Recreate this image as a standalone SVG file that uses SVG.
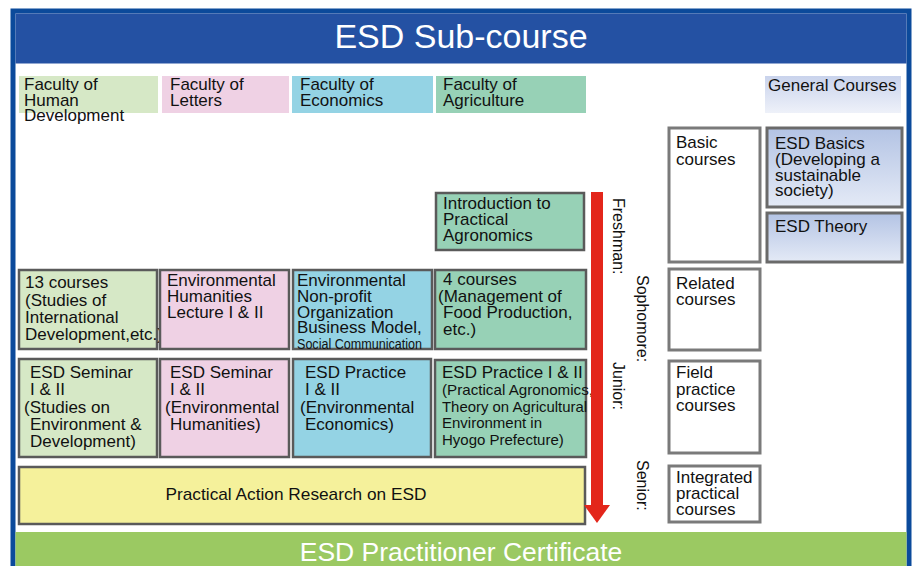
<svg xmlns="http://www.w3.org/2000/svg" width="915" height="566" viewBox="0 0 915 566">
<defs>
<linearGradient id="gBlue" x1="0" y1="0" x2="0" y2="1">
<stop offset="0" stop-color="#b3c3e4"/>
<stop offset="1" stop-color="#e4eaf6"/>
</linearGradient>
<linearGradient id="gHead" x1="0" y1="0" x2="0" y2="1">
<stop offset="0" stop-color="#c9d3ec"/>
<stop offset="1" stop-color="#eef1f9"/>
</linearGradient>
<marker id="ah" viewBox="0 0 18 26" refX="0" refY="13" markerWidth="18" markerHeight="26" markerUnits="userSpaceOnUse" orient="auto">
<path d="M0 0 L18 13 L0 26 Z" fill="#e3261b"/>
</marker>
</defs>
<style>
text{font-family:"Liberation Sans",Arial,sans-serif;fill:#111;font-size:17px}
.bx{stroke:#5a5a5a;stroke-width:2.5}
.wb{fill:#fff;stroke:#7a7a7a;stroke-width:3}
.gr{fill:#d6e8c6}
.pk{fill:#efd1e4}
.bl{fill:#94d3e4}
.ag{fill:#97d1b6}
.sm{font-size:15px}
.yr{font-size:16px}
</style>
<rect x="0" y="0" width="915" height="566" fill="#fff"/>
<g id="frame">
<rect x="13" y="11" width="896" height="560" fill="#fff" stroke="#0b4a9b" stroke-width="5"/>
<rect x="15.5" y="13.5" width="891" height="50" fill="#2451a3"/>
<text x="461" y="48" text-anchor="middle" style="fill:#fff;font-size:34px">ESD Sub-course</text>
</g>
<g id="footer">
<rect x="15.5" y="532" width="891" height="40" fill="#9bc962"/>
<text x="461" y="561" text-anchor="middle" style="fill:#fff;font-size:26.5px">ESD Practitioner Certificate</text>
</g>

<g id="fac-human">
<rect class="gr" x="19" y="76" width="139" height="37"/>
<text x="24" y="90">Faculty of</text><text x="24" y="105.5">Human</text><text x="24" y="121">Development</text>
</g>
<g id="fac-letters">
<rect class="pk" x="162" y="76" width="127" height="37"/>
<text x="170" y="90">Faculty of</text><text x="170" y="105.5">Letters</text>
</g>
<g id="fac-econ">
<rect class="bl" x="292" y="76" width="141" height="37"/>
<text x="300" y="90">Faculty of</text><text x="300" y="105.5">Economics</text>
</g>
<g id="fac-agri">
<rect class="ag" x="436" y="76" width="150" height="37"/>
<text x="443" y="90">Faculty of</text><text x="443" y="105.5">Agriculture</text>
</g>
<g id="general">
<rect fill="url(#gHead)" x="765" y="76" width="136" height="37"/>
<text x="768" y="91">General Courses</text>
</g>

<g id="basic-courses">
<rect class="wb" x="669" y="128" width="91" height="134"/>
<text x="676" y="148">Basic</text><text x="676" y="165">courses</text>
</g>
<g id="esd-basics">
<rect fill="url(#gBlue)" stroke="#6a6a6a" stroke-width="3" x="767" y="128" width="135" height="79"/>
<text x="775" y="149">ESD Basics</text><text x="775" y="165">(Developing a</text><text x="775" y="180.5">sustainable</text><text x="775" y="196">society)</text>
</g>
<g id="esd-theory">
<rect fill="url(#gBlue)" stroke="#6a6a6a" stroke-width="3" x="767" y="213" width="135" height="49"/>
<text x="775" y="232">ESD Theory</text>
</g>
<g id="related-courses">
<rect class="wb" x="669" y="269" width="91" height="81"/>
<text x="676" y="289">Related</text><text x="676" y="305">courses</text>
</g>
<g id="field-courses">
<rect class="wb" x="669" y="361" width="91" height="92"/>
<text x="676" y="378">Field</text><text x="676" y="395">practice</text><text x="676" y="411">courses</text>
</g>
<g id="integrated-courses">
<rect class="wb" x="669" y="466" width="91" height="56"/>
<text x="676" y="483">Integrated</text><text x="676" y="499">practical</text><text x="676" y="514.5">courses</text>
</g>

<g id="intro-agronomics">
<rect class="ag bx" x="436" y="193" width="148" height="57"/>
<text x="443" y="209">Introduction to</text><text x="443" y="225">Practical</text><text x="443" y="241">Agronomics</text>
</g>

<g id="hd-13courses">
<rect class="gr bx" x="19" y="270" width="138" height="79"/>
<text x="25" y="288">13 courses</text><text x="25" y="305.5">(Studies of</text><text x="25" y="323">International</text><text x="25" y="340">Development,etc.)</text>
</g>
<g id="lt-humanities">
<rect class="pk bx" x="160" y="270" width="129" height="79"/>
<text x="167" y="286">Environmental</text><text x="167" y="302">Humanities</text><text x="167" y="318">Lecture I &amp; II</text>
</g>
<g id="ec-npo">
<rect class="bl bx" x="293" y="270" width="139" height="79"/>
<text x="297" y="286">Environmental</text><text x="297" y="302">Non-profit</text><text x="297" y="317.5">Organization</text><text x="297" y="333">Business Model,</text>
<text x="297" y="349" style="font-size:14px" textLength="125" lengthAdjust="spacingAndGlyphs">Social Communication</text>
</g>
<g id="ag-4courses">
<rect class="ag bx" x="435" y="270" width="151" height="79"/>
<text x="443" y="285">4 courses</text><text x="438" y="302">(Management of</text><text x="443" y="318">Food Production,</text><text x="443" y="335">etc.)</text>
</g>

<g id="hd-seminar">
<rect class="gr bx" x="19" y="359" width="138" height="98"/>
<text x="30" y="378">ESD Seminar</text><text x="30" y="395">I &amp; II</text><text x="24" y="413">(Studies on</text><text x="30" y="430">Environment &amp;</text><text x="30" y="447">Development)</text>
</g>
<g id="lt-seminar">
<rect class="pk bx" x="160" y="359" width="129" height="98"/>
<text x="170" y="378">ESD Seminar</text><text x="170" y="395">I &amp; II</text><text x="165" y="413">(Environmental</text><text x="170" y="430">Humanities)</text>
</g>
<g id="ec-practice">
<rect class="bl bx" x="293" y="359" width="138" height="98"/>
<text x="305" y="378">ESD Practice</text><text x="305" y="395">I &amp; II</text><text x="300" y="413">(Environmental</text><text x="305" y="430">Economics)</text>
</g>
<g id="ag-practice">
<rect class="ag bx" x="435" y="360" width="151" height="97"/>
<text x="442" y="378">ESD Practice I &amp; II</text>
<text x="442" y="395" class="sm" textLength="151" lengthAdjust="spacingAndGlyphs">(Practical Agronomics,</text>
<text x="442" y="412" class="sm" textLength="145" lengthAdjust="spacingAndGlyphs">Theory on Agricultural</text>
<text x="442" y="428" class="sm">Environment in</text>
<text x="442" y="445" class="sm">Hyogo Prefecture)</text>
</g>

<g id="action-research">
<rect fill="#f5f19b" class="bx" x="19" y="467" width="566" height="57"/>
<text x="296" y="500" text-anchor="middle" style="font-size:17px" textLength="261" lengthAdjust="spacingAndGlyphs">Practical Action Research on ESD</text>
</g>

<g id="connectors">
<line x1="597" y1="192" x2="597" y2="505" stroke="#e3261b" stroke-width="12" marker-end="url(#ah)"/>
</g>
<g id="years">
<text class="yr" transform="translate(613,198) rotate(90)">Freshman:</text>
<text class="yr" transform="translate(637,275) rotate(90)">Sophomore:</text>
<text class="yr" transform="translate(613,362) rotate(90)">Junior:</text>
<text class="yr" transform="translate(637,460) rotate(90)">Senior:</text>
</g>
</svg>
